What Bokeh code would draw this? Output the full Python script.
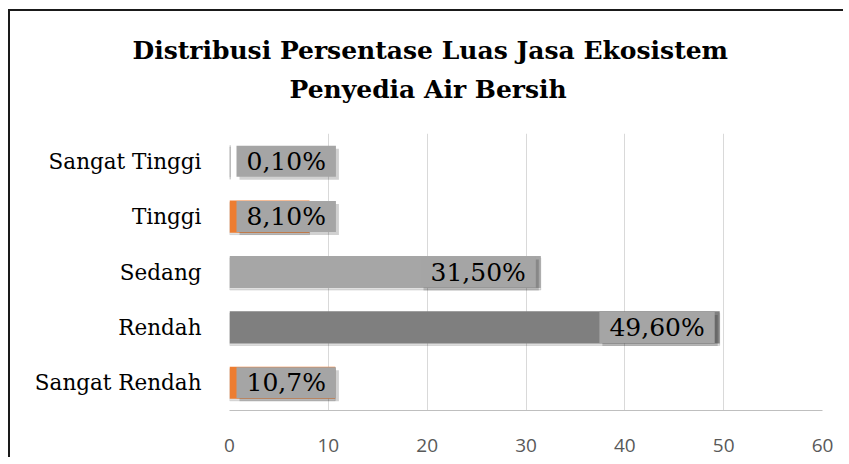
from bokeh.plotting import figure
from bokeh.models import FixedTicker, ColumnDataSource, Title
from bokeh.transform import dodge
from bokeh.core.properties import value
from bokeh.embed import file_html
from bokeh.resources import INLINE

# ---- data ----
categories = ["Sangat Rendah", "Rendah", "Sedang", "Tinggi", "Sangat Tinggi"]
percent = [10.7, 49.6, 31.5, 8.1, 0.1]
label_text = ["10,7%", "49,60%", "31,50%", "8,10%", "0,10%"]
bar_colors = ["#ED7D31", "#7F7F7F", "#A6A6A6", "#ED7D31", "#A5A5A5"]
x_ticks = [0, 10, 20, 30, 40, 50, 60]
title_lines = ["Distribusi Persentase Luas Jasa Ekosistem", "Penyedia Air Bersih"]

src = ColumnDataSource(dict(cat=categories, val=percent, col=bar_colors))

inside = [i for i, v in enumerate(percent) if v >= 20]
base = [i for i, v in enumerate(percent) if v < 20]
src_end = ColumnDataSource(dict(cat=[categories[i] for i in inside],
                                val=[percent[i] for i in inside],
                                txt=[label_text[i] for i in inside]))
src_base = ColumnDataSource(dict(cat=[categories[i] for i in base],
                                 val=[0 for i in base],
                                 txt=[label_text[i] for i in base]))

W, H = 835, 448
p = figure(y_range=categories, x_range=(0, 60), width=W, height=H,
           output_backend="svg", toolbar_location=None,
           min_border_left=219, min_border_right=23, min_border_top=122,
           min_border_bottom=49)
p.styles = {"border-left": "2px solid #1a1a1a", "border-top": "2px solid #1a1a1a",
            "margin-left": "8px", "margin-top": "9px"}
p.outline_line_color = None
p.background_fill_color = "white"
p.border_fill_color = "white"

# spacer between frame and title block
spacer = Title(text=" ", text_font_size="18px", standoff=0)
# title (two lines, left-aligned with pixel offsets so they centre on the chart area)
t2 = Title(text=title_lines[1], align="left", offset=60,
           text_font="DejaVu Serif", text_font_style="bold",
           text_font_size="25px", text_color="#000000", standoff=16)
t1 = Title(text=title_lines[0], align="left", offset=-97,
           text_font="DejaVu Serif", text_font_style="bold",
           text_font_size="25px", text_color="#000000", standoff=0)
p.add_layout(spacer, "above")
p.add_layout(t2, "above")
p.add_layout(t1, "above")

# bars shadow + bars
p.hbar(y=dodge("cat", -0.035, range=p.y_range), right="val", left=0, height=0.58,
       source=src, color="#000000", alpha=0.12)
p.hbar(y="cat", right="val", left=0, height=0.58, source=src,
       fill_color="col", line_color=None)

# data label boxes (shadow then box)
lbl_kw = dict(text_font=value("DejaVu Serif"), text_font_size="25px",
              text_baseline="middle", padding=dict(x=10, y=1))
p.text(x="val", y="cat", text="txt", source=src_end, text_align="right",
       x_offset=-2, y_offset=3, text_alpha=0, background_fill_color="#000000",
       background_fill_alpha=0.18, **lbl_kw)
p.text(x="val", y="cat", text="txt", source=src_base, text_align="left",
       x_offset=10, y_offset=3, text_alpha=0, background_fill_color="#000000",
       background_fill_alpha=0.18, **lbl_kw)
p.text(x="val", y="cat", text="txt", source=src_end, text_align="right",
       x_offset=-5, text_color="#000000", background_fill_color="#A5A5A5",
       **lbl_kw)
p.text(x="val", y="cat", text="txt", source=src_base, text_align="left",
       x_offset=7, text_color="#000000", background_fill_color="#A5A5A5",
       **lbl_kw)

# axes
p.xaxis.ticker = FixedTicker(ticks=x_ticks)
p.xaxis.axis_line_color = "#BFBFBF"
p.xaxis.major_tick_line_color = None
p.xaxis.minor_tick_line_color = None
p.xaxis.major_label_text_font = "Open Sans"
p.xaxis.major_label_text_font_size = "19px"
p.xaxis.major_label_text_color = "#595959"
p.xaxis.major_label_standoff = 22

p.yaxis.axis_line_color = None
p.yaxis.major_tick_line_color = None
p.yaxis.minor_tick_line_color = None
p.yaxis.major_label_text_font = "DejaVu Serif"
p.yaxis.major_label_text_font_size = "21.5px"
p.yaxis.major_label_text_color = "#000000"
p.yaxis.major_label_standoff = 22

p.xgrid.grid_line_color = "#D9D9D9"
p.ygrid.grid_line_color = None
p.y_range.range_padding = 0

open("out.html", "w").write(file_html(p, INLINE))
